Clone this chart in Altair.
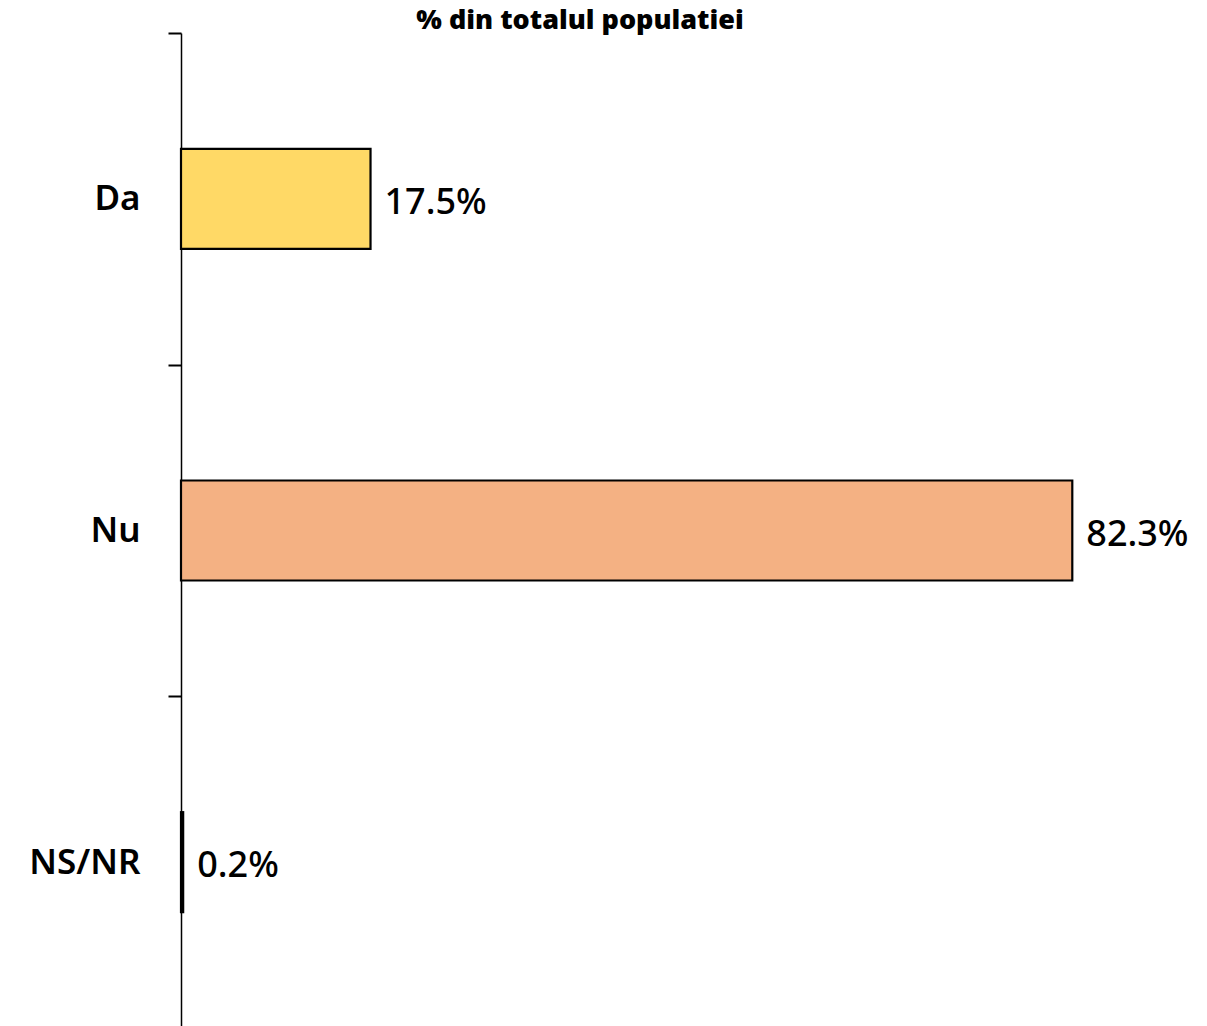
import altair as alt
import pandas as pd

categories = ["Da", "Nu", "NS/NR"]
values = [17.5, 82.3, 0.2]
colors = ["#FFD966", "#F4B183", "#000000"]
labels = ["17.5%", "82.3%", "0.2%"]
title_text = "% din totalul populatiei"

df = pd.DataFrame({"cat": categories, "val": values, "color": colors, "label": labels})

FONT = "Noto Sans"

y = alt.Y("cat:N", sort=categories, title=None,
          scale=alt.Scale(paddingInner=0, paddingOuter=0),
          axis=alt.Axis(tickBand="extent", tickSize=13, tickColor="black", tickWidth=2,
                        domainColor="black", domainWidth=1.5, labelFont=FONT,
                        labelFontSize=35, labelFontWeight=600, labelColor="black",
                        labelPadding=28, grid=False))
x = alt.X("val:Q", title=None, scale=alt.Scale(domain=[0, 94], nice=False), axis=None)

bars = alt.Chart(df).mark_bar(stroke="black", strokeWidth=2.2, height=100).encode(
    x=x, y=y, color=alt.Color("color:N", scale=None))

text = alt.Chart(df).mark_text(align="left", dx=14, dy=4, font=FONT, fontSize=36,
                               fontWeight=500, color="black").encode(
    x=x, y=alt.Y("cat:N", sort=categories), text="label:N")

title = alt.Chart(pd.DataFrame({"t": [title_text]})).mark_text(
    align="center", baseline="alphabetic", font=FONT, fontSize=27, fontWeight=900,
    color="black").encode(x=alt.value(399), y=alt.value(-4), text="t:N")

chart = (bars + text + title).properties(
    width=1018, height=995,
    autosize=alt.AutoSizeParams(type="none"),
    padding={"left": 173, "top": 25, "right": 0, "bottom": 0},
).configure_view(stroke=None)

chart.save("out.html", embed_options={"renderer": "svg", "actions": False})
